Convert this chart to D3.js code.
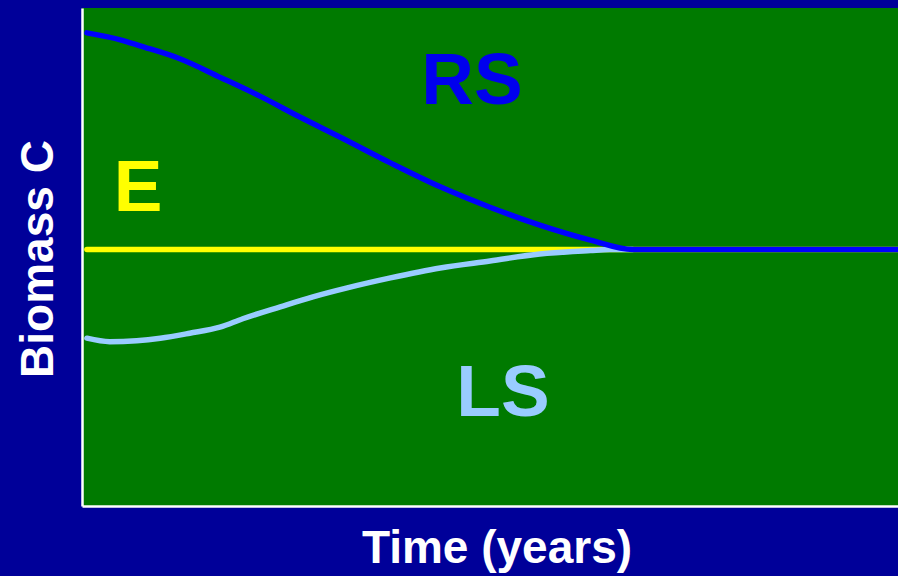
<!DOCTYPE html>
<html>
<head>
<meta charset="utf-8">
<script src="https://cdn.jsdelivr.net/npm/d3@7"></script>
<style>
  html, body { margin: 0; padding: 0; background: #000099; }
  svg { display: block; }
  text { font-family: "Liberation Sans", Arial, Helvetica, sans-serif; font-weight: bold; }
</style>
</head>
<body>
<svg id="chart" width="898" height="576"></svg>
<script>
// Time (arbitrary units, 0-100) and biomass C (arbitrary units, 0-100)
const rsTime = [0.6, 4.7, 7.1, 12.0, 16.9, 21.8, 26.7, 31.6, 37.8, 43.9, 50.0, 56.1, 62.3, 67.5, 100];
const rsBiomass = [95.0, 93.6, 92.4, 89.8, 86.1, 82.3, 78.1, 74.1, 68.9, 64.1, 60.0, 56.4, 53.4, 51.5, 51.5];

const lsTime = [0.6, 3.4, 6.7, 9.6, 13.2, 16.9, 19.7, 24.3, 28.3, 32.5, 37.8, 43.9, 50.0, 56.1, 62.3, 64.7, 67.5];
const lsBiomass = [33.7, 33.0, 33.2, 33.7, 34.7, 35.9, 37.6, 40.0, 42.0, 43.8, 45.8, 47.8, 49.2, 50.6, 51.3, 51.5, 51.5];

const eTime = [0.6, 100];
const eBiomass = [51.5, 51.5];

const seriesNames = ["E", "LS", "RS"];
const xTitle = "Time (years)";
const yTitle = "Biomass C";

const svg = d3.select("#chart");
const W = 898, H = 576;
const margin = { left: 82, right: 0, top: 8, bottom: 70 };

svg.append("rect").attr("width", W).attr("height", H).attr("fill", "#000099");

const x = d3.scaleLinear().domain([0, 100]).range([margin.left, W - margin.right]);
const y = d3.scaleLinear().domain([0, 100]).range([H - margin.bottom, margin.top]);

// plot area
svg.append("rect")
  .attr("x", x(0)).attr("y", y(100))
  .attr("width", x(100) - x(0)).attr("height", y(0) - y(100))
  .attr("fill", "#007a00");

// axes lines (white, no ticks)
svg.append("g")
  .attr("transform", `translate(0,${y(0)})`)
  .call(d3.axisBottom(x).tickValues([]).tickSizeOuter(0))
  .call(g => g.select(".domain").attr("stroke", "#ffffff").attr("stroke-width", 2.5));
svg.append("g")
  .attr("transform", `translate(${x(0)},0)`)
  .call(d3.axisLeft(y).tickValues([]).tickSizeOuter(0))
  .call(g => g.select(".domain").attr("stroke", "#ffffff").attr("stroke-width", 2.5));

const line = d3.line()
  .x(d => x(d[0]))
  .y(d => y(d[1]))
  .curve(d3.curveMonotoneX);

const series = [
  { name: "E", t: eTime, v: eBiomass, color: "#ffff00" },
  { name: "LS", t: lsTime, v: lsBiomass, color: "#99ccff" },
  { name: "RS", t: rsTime, v: rsBiomass, color: "#0000ff" }
];

series.forEach(s => {
  svg.append("path")
    .datum(s.t.map((t, i) => [t, s.v[i]]))
    .attr("d", line)
    .attr("fill", "none")
    .attr("stroke", s.color)
    .attr("stroke-width", 5.5)
    .attr("stroke-linecap", "round")
    .attr("stroke-linejoin", "round");
});

// series labels
const labels = [
  { text: seriesNames[2], x: 472, y: 104, color: "#0000ee" },
  { text: seriesNames[0], x: 138, y: 211, color: "#ffff00" },
  { text: seriesNames[1], x: 503, y: 416, color: "#99ccff" }
];
svg.selectAll("text.series")
  .data(labels)
  .enter().append("text")
  .attr("class", "series")
  .attr("x", d => d.x).attr("y", d => d.y)
  .attr("text-anchor", "middle")
  .attr("font-size", 73)
  .attr("fill", d => d.color)
  .text(d => d.text);

// axis titles
svg.append("text")
  .attr("x", 497).attr("y", 563)
  .attr("text-anchor", "middle")
  .attr("font-size", 46)
  .attr("fill", "#ffffff")
  .text(xTitle);

svg.append("text")
  .attr("transform", "translate(53,259) rotate(-90)")
  .attr("text-anchor", "middle")
  .attr("font-size", 46)
  .attr("fill", "#ffffff")
  .text(yTitle);
</script>
</body>
</html>
